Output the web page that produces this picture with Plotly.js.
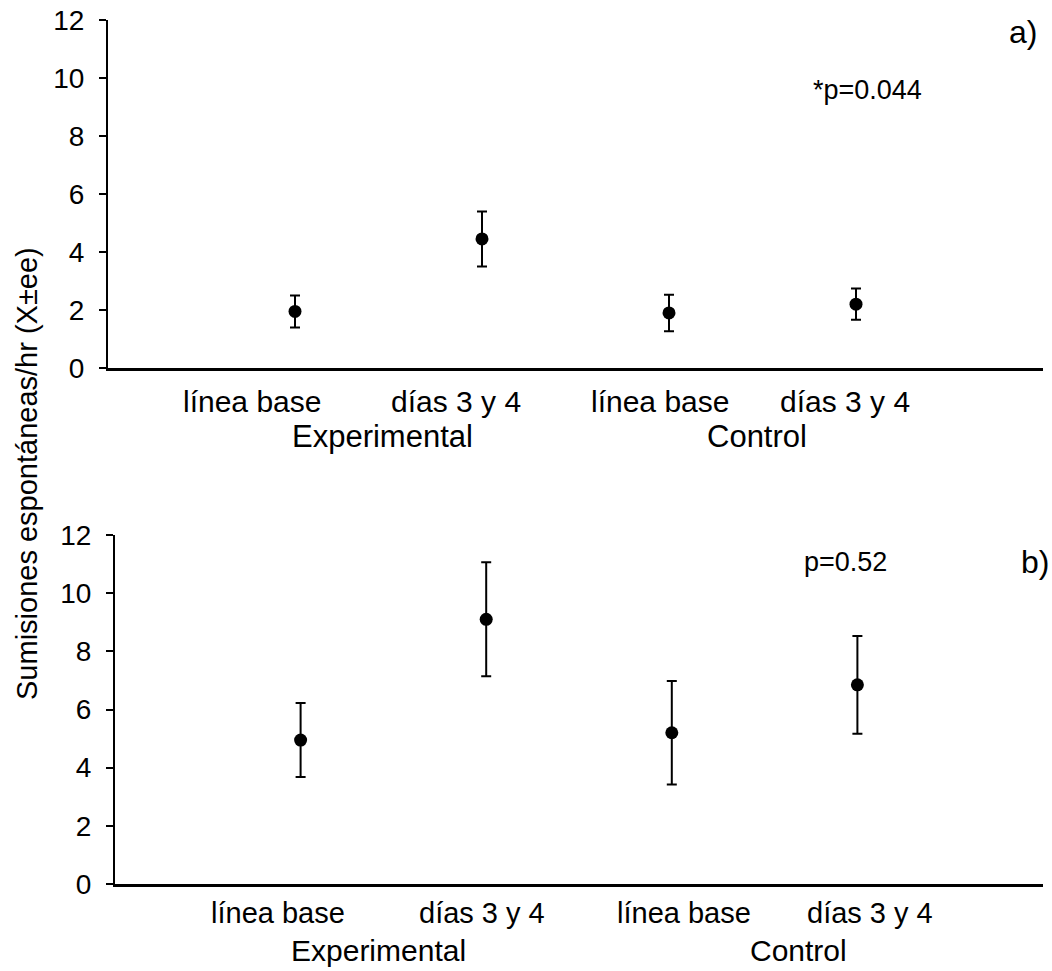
<!DOCTYPE html>
<html>
<head>
<meta charset="utf-8">
<script src="https://cdn.plot.ly/plotly-3.0.1.min.js"></script>
<style>
  html, body { margin: 0; padding: 0; background: #fff; }
  #chart { width: 1052px; height: 971px; }
</style>
</head>
<body>
<div id="chart"></div>
<script>
// Conditions along the x axis (two groups, two phases each)
const positions = [1, 2, 3, 4];
const phaseLabels = ['línea base', 'días 3 y 4', 'línea base', 'días 3 y 4'];
const groupLabels = ['Experimental', 'Control'];

// Panel a) means and standard errors
const meanA = [1.95, 4.45, 1.9, 2.2];
const seA = [0.55, 0.95, 0.63, 0.54];

// Panel b) means and standard errors
const meanB = [4.95, 9.1, 5.2, 6.85];
const seB = [1.27, 1.96, 1.78, 1.68];

const yTicks = [0, 2, 4, 6, 8, 10, 12];
const pLabelA = '*p=0.044';
const pLabelB = 'p=0.52';
const yTitle = 'Sumisiones espontáneas/hr (X±ee)';

const W = 1052, H = 971;
const FONT = 'Liberation Sans, Arial, sans-serif';
const px = v => v / W;
const py = v => 1 - v / H;

function pointTrace(mean, se, xa, ya) {
  return {
    type: 'scatter', mode: 'markers',
    x: positions, y: mean, xaxis: xa, yaxis: ya,
    marker: { color: '#000', size: 13 },
    error_y: { type: 'data', array: se, visible: true, color: '#000', thickness: 2, width: 5 },
    hoverinfo: 'x+y', showlegend: false
  };
}

const yAxisBase = {
  range: [0, 12], tickvals: yTicks, ticktext: yTicks.map(String),
  showline: true, linecolor: '#000', linewidth: 2,
  ticks: 'outside', ticklen: 7, tickwidth: 2, tickcolor: '#000',
  showgrid: false, zeroline: false, ticklabelstandoff: 9,
  tickfont: { family: FONT, size: 28, color: '#000' }
};
const xAxisBase = {
  range: [0, 5], showline: true, linecolor: '#000', linewidth: 2.5,
  showticklabels: false, ticks: '', showgrid: false, zeroline: false
};

const layout = {
  width: W, height: H,
  margin: { l: 0, r: 0, t: 0, b: 0 },
  paper_bgcolor: '#fff', plot_bgcolor: 'rgba(0,0,0,0)',
  font: { family: FONT, color: '#000' },
  xaxis: Object.assign({}, xAxisBase, { domain: [px(108), px(1043)], anchor: 'y' }),
  yaxis: Object.assign({}, yAxisBase, { domain: [py(368), py(20)], anchor: 'x' }),
  xaxis2: Object.assign({}, xAxisBase, { domain: [px(115), px(1043)], anchor: 'y2' }),
  yaxis2: Object.assign({}, yAxisBase, { domain: [py(884), py(535)], anchor: 'x2' }),
  annotations: []
};

function label(text, x, y, size) {
  layout.annotations.push({
    text: text, xref: 'paper', yref: 'paper', x: px(x), y: py(y),
    xanchor: 'center', yanchor: 'middle', showarrow: false,
    font: { family: FONT, size: size, color: '#000' }
  });
}

// Category and group labels under each panel
const phaseXA = [252, 456, 660, 845];
const phaseXB = [278, 482, 684, 870];
phaseLabels.forEach((t, i) => {
  label(t, phaseXA[i], 401, 30);
  label(t, phaseXB[i], 913, 29);
});
label(groupLabels[0], 382, 436, 31);
label(groupLabels[1], 757, 436, 31);
label(groupLabels[0], 378, 950, 30);
label(groupLabels[1], 798, 950, 30);

// Panel tags and significance notes
label('a)', 1023, 32, 32);
label('b)', 1035, 562, 32);
label(pLabelA, 867, 90, 27);
label(pLabelB, 845, 562, 27);

// Shared y-axis title
layout.annotations.push({
  text: yTitle, xref: 'paper', yref: 'paper', x: px(27), y: py(474),
  xanchor: 'center', yanchor: 'middle', textangle: -90, showarrow: false,
  font: { family: FONT, size: 29, color: '#000' }
});

Plotly.newPlot('chart', [
  pointTrace(meanA, seA, 'x', 'y'),
  pointTrace(meanB, seB, 'x2', 'y2')
], layout, { staticPlot: true });
</script>
</body>
</html>
